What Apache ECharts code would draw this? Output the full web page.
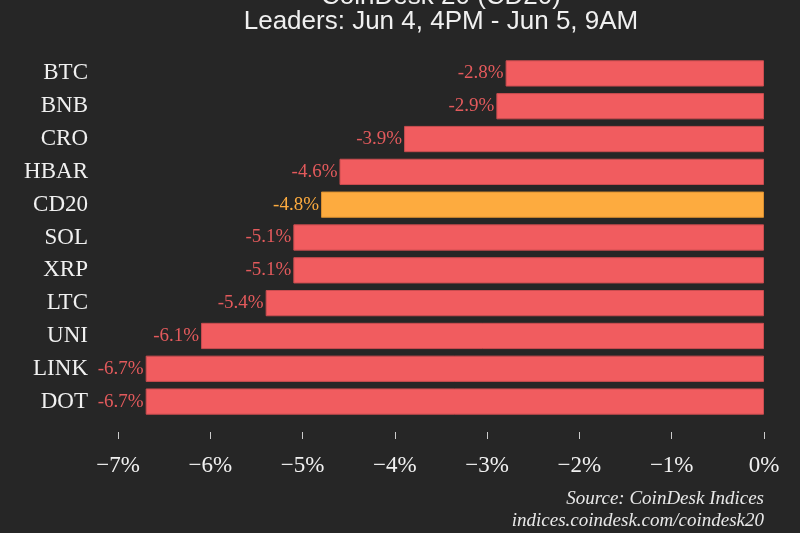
<!DOCTYPE html>
<html><head><meta charset="utf-8">
<script src="https://cdn.jsdelivr.net/npm/echarts@6/dist/echarts.min.js"></script>
<style>html,body{margin:0;padding:0;background:#262626}#c{width:800px;height:533px}</style>
</head><body><div id="c"></div>
<script>
const categories = ['BTC','BNB','CRO','HBAR','CD20','SOL','XRP','LTC','UNI','LINK','DOT'];
const values = [-2.8,-2.9,-3.9,-4.6,-4.8,-5.1,-5.1,-5.4,-6.1,-6.7,-6.7];
const highlight = 'CD20';
const xTicks = [-7,-6,-5,-4,-3,-2,-1,0];
const titleText = 'CoinDesk 20 (CD20)';
const subtitleText = 'Leaders: Jun 4, 4PM - Jun 5, 9AM';
const sourceLines = ['Source: CoinDesk Indices','indices.coindesk.com/coindesk20'];

const RED = '#f15c5f', RED_LABEL = '#e35a5c', ORANGE = '#fdab3f';
const serif = '"Liberation Serif", "DejaVu Serif", serif';
const sans = '"Liberation Sans", Arial, sans-serif';

const chart = echarts.init(document.getElementById('c'));
chart.setOption({
  backgroundColor: '#262626',
  animation: false,
  graphic: [
    { type: 'text', x: 441, y: -3, style: { text: titleText, fill: '#f0f0f0', font: '26px ' + sans, textAlign: 'center', textVerticalAlign: 'middle' } },
    { type: 'text', x: 441, y: 22, style: { text: subtitleText, fill: '#f0f0f0', font: '26px ' + sans, textAlign: 'center', textVerticalAlign: 'middle' } }
  ].concat(sourceLines.map((t, i) => ({
    type: 'text', x: 764, y: 499 + i * 22,
    style: { text: t, fill: '#e8e8e8', font: 'italic 19px ' + serif, textAlign: 'right', textVerticalAlign: 'middle' }
  }))),
  grid: { left: 118, right: 36, top: 57, bottom: 115, containLabel: false },
  xAxis: {
    type: 'value', min: -7, max: 0, interval: 1,
    offset: 14,
    axisLine: { show: false },
    axisTick: { show: true, length: 7, lineStyle: { color: '#cccccc', width: 1 } },
    splitLine: { show: false },
    axisLabel: {
      color: '#f0f0f0', fontSize: 23, fontFamily: serif, margin: 22,
      formatter: v => (v < 0 ? '\u2212' + Math.abs(v) : v) + '%'
    }
  },
  yAxis: {
    type: 'category', data: categories, inverse: true,
    axisLine: { show: false }, axisTick: { show: false },
    axisLabel: { color: '#f0f0f0', fontSize: 23, fontFamily: serif, margin: 30 }
  },
  series: [{
    type: 'bar',
    barCategoryGap: '20%',
    data: values.map((v, i) => ({
      value: v,
      itemStyle: { color: categories[i] === highlight ? ORANGE : RED, borderColor: categories[i] === highlight ? '#d98f30' : '#c94c4f', borderWidth: 1 },
      label: { color: categories[i] === highlight ? ORANGE : RED_LABEL }
    })),
    label: {
      show: true, position: 'left', distance: 2,
      fontSize: 19, fontFamily: serif,
      formatter: p => p.value + '%'
    }
  }]
});
</script></body></html>
